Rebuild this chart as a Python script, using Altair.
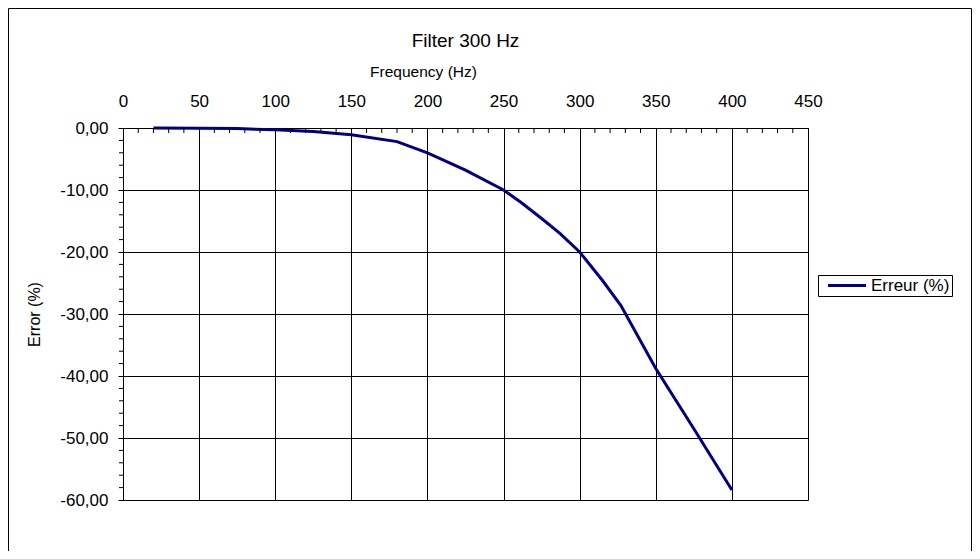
import altair as alt
import pandas as pd

# Data
freq = [20, 50, 75, 100, 125, 150, 180, 200, 225, 250, 262, 275, 287, 300, 315, 327, 350, 375, 400]
err = [0.0, -0.05, -0.1, -0.3, -0.55, -1.1, -2.2, -4.0, -6.8, -10.0, -12.1, -14.6, -17.0, -20.0, -24.6, -28.6, -38.8, -48.5, -58.4]
series_name = "Erreur (%)"

x_major = list(range(0, 451, 50))
y_major = list(range(-60, 1, 10))
x_minor = [v for v in range(0, 451, 10) if v % 50 != 0]
y_minor = [v for v in range(-60, 1, 2) if v % 10 != 0]

FONT = "Liberation Sans"

df = pd.DataFrame({"freq": freq, "err": err, "series": [series_name] * len(freq)})

xscale = alt.Scale(domain=[0, 450], nice=False, zero=False)
yscale = alt.Scale(domain=[-60, 0], nice=False, zero=False)

xaxis = alt.Axis(orient="top", values=x_major, title="Frequency (Hz)",
                 ticks=False, tickSize=0, labelPadding=18, titlePadding=13,
                 titleX=300, titleAlign="center",
                 grid=True, gridColor="black", gridOpacity=1, gridWidth=1,
                 domainColor="black", labelFont=FONT, labelFontSize=17,
                 labelColor="black", titleFont=FONT, titleFontSize=15.5,
                 titleFontWeight="normal", titleColor="black", labelFlush=False)
yaxis = alt.Axis(values=y_major, title="Error (%)",
                 labelExpr="(datum.value < 0 ? '-' : '') + replace(format(abs(datum.value), '.2f'), '.', ',')",
                 tickSize=5, tickColor="black", labelPadding=10, titlePadding=17,
                 grid=True, gridColor="black", gridOpacity=1, gridWidth=1,
                 domainColor="black", labelFont=FONT, labelFontSize=17,
                 labelColor="black", titleFont=FONT, titleFontSize=16,
                 titleFontWeight="normal", titleColor="black", labelFlush=False)

line = alt.Chart(df).mark_line(strokeWidth=3).encode(
    x=alt.X("freq:Q", scale=xscale, axis=xaxis, title="Frequency (Hz)"),
    y=alt.Y("err:Q", scale=yscale, axis=yaxis, title="Error (%)"),
    color=alt.Color("series:N", scale=alt.Scale(range=["#000080"]),
                    legend=alt.Legend(title=None, orient="none", legendX=695, legendY=147,
                                      strokeColor="black", padding=2, symbolType="stroke",
                                      symbolStrokeWidth=3, symbolSize=1450, symbolOffset=6,
                                      clipHeight=17, labelOffset=3,
                                      labelFont=FONT, labelFontSize=17, labelColor="black",
                                      fillColor="white")),
)

xminor = alt.Chart(pd.DataFrame({"freq": x_minor})).mark_rule(color="black", strokeWidth=1).encode(
    x=alt.X("freq:Q", scale=xscale, axis=xaxis, title="Frequency (Hz)"),
    y=alt.value(0), y2=alt.value(5),
)
yminor = alt.Chart(pd.DataFrame({"err": y_minor})).mark_rule(color="black", strokeWidth=1).encode(
    y=alt.Y("err:Q", scale=yscale, axis=yaxis, title="Error (%)"),
    x=alt.value(-4), x2=alt.value(0),
)
frame = alt.Chart(alt.Data(values=[{"k": 1}])).mark_rect(filled=False, stroke="black", strokeWidth=1).encode(
    x=alt.value(-114.5), x2=alt.value(848.5), y=alt.value(-119.5), y2=alt.value(500),
)

chart = alt.layer(line, xminor, yminor, frame).properties(
    width=685, height=372,
    title=alt.TitleParams("Filter 300 Hz", font=FONT, fontSize=19, fontWeight="normal",
                          color="black", anchor="middle", frame="group", offset=14, dy=57),
    autosize=alt.AutoSizeParams(type="none"),
    padding={"left": 115, "top": 120, "right": 164, "bottom": 51},
).configure_view(stroke="black", strokeWidth=1).configure(background="white")

chart.save("out.html", embed_options={"renderer": "svg", "actions": False})
